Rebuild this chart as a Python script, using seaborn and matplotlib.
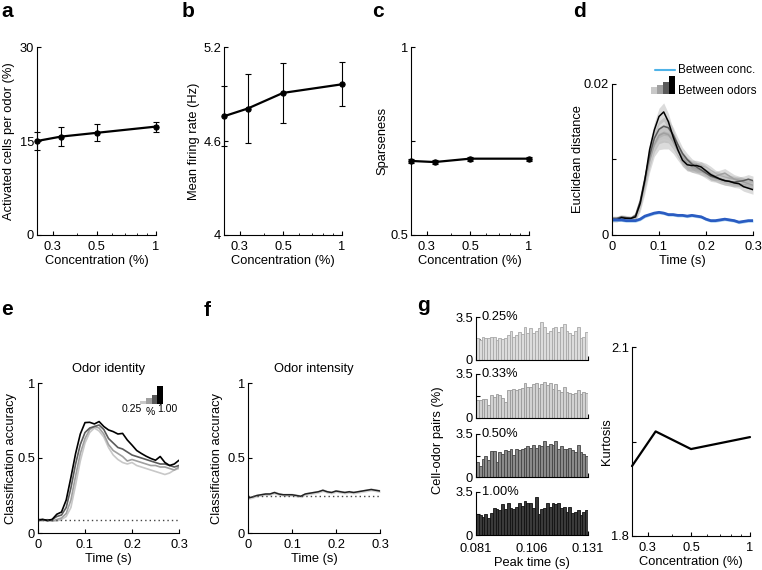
import numpy as np
import pandas as pd
import matplotlib
matplotlib.use('Agg')
import matplotlib.pyplot as plt
import seaborn as sns
from matplotlib.ticker import NullFormatter
from matplotlib.patches import Rectangle
from matplotlib.lines import Line2D

# ---------------- data ----------------
conc = [0.25, 0.33, 0.5, 1.0]
active_mean = [15.0, 15.7, 16.3, 17.3]
active_err = [1.5, 1.55, 1.35, 0.8]
rate_mean = [4.758, 4.807, 4.907, 4.962]
rate_err = [0.19, 0.22, 0.19, 0.14]
sparse_mean = [0.697, 0.694, 0.703, 0.703]
sparse_err = [0.006, 0.005, 0.005, 0.005]
kurt = [1.911, 1.966, 1.938, 1.957]

time = [0.00, 0.01, 0.02, 0.03, 0.04, 0.05, 0.06, 0.07, 0.08, 0.09, 0.10,
        0.11, 0.12, 0.13, 0.14, 0.15, 0.16, 0.17, 0.18, 0.19, 0.20,
        0.21, 0.22, 0.23, 0.24, 0.25, 0.26, 0.27, 0.28, 0.29, 0.30]

dist_025 = [0.0021, 0.0021, 0.0022, 0.0021, 0.0021, 0.0023, 0.0036, 0.0062, 0.0092, 0.0114, 0.0124,
            0.0126, 0.0125, 0.0118, 0.0108, 0.0099, 0.0093, 0.0090, 0.0089, 0.0090, 0.0088,
            0.0084, 0.0080, 0.0077, 0.0075, 0.0073, 0.0072, 0.0070, 0.0069, 0.0068, 0.0067]
dist_033 = [0.0021, 0.0021, 0.0022, 0.0022, 0.0021, 0.0024, 0.0040, 0.0068, 0.0098, 0.0120, 0.0132,
            0.0135, 0.0133, 0.0124, 0.0112, 0.0102, 0.0095, 0.0090, 0.0088, 0.0086, 0.0084,
            0.0080, 0.0078, 0.0080, 0.0082, 0.0078, 0.0074, 0.0072, 0.0070, 0.0068, 0.0066]
dist_050 = [0.0022, 0.0022, 0.0024, 0.0023, 0.0022, 0.0026, 0.0045, 0.0075, 0.0105, 0.0128, 0.0140,
            0.0144, 0.0142, 0.0133, 0.0120, 0.0108, 0.0100, 0.0094, 0.0090, 0.0086, 0.0082,
            0.0078, 0.0076, 0.0074, 0.0072, 0.0071, 0.0070, 0.0071, 0.0072, 0.0074, 0.0072]
dist_100 = [0.0020, 0.0020, 0.0023, 0.0022, 0.0022, 0.0024, 0.0042, 0.0073, 0.0113, 0.0139, 0.0157,
            0.0163, 0.0150, 0.0130, 0.0113, 0.0099, 0.0093, 0.0092, 0.0092, 0.0090, 0.0085,
            0.0080, 0.0077, 0.0074, 0.0072, 0.0071, 0.0069, 0.0068, 0.0064, 0.0062, 0.0060]
dist_odor_sem = [0.0003, 0.0003, 0.0003, 0.0003, 0.0003, 0.0004, 0.0005, 0.0007, 0.0009, 0.0010, 0.0011,
                 0.0012, 0.0011, 0.0010, 0.0009, 0.0008, 0.0008, 0.0007, 0.0007, 0.0007, 0.0007,
                 0.0007, 0.0006, 0.0006, 0.0006, 0.0006, 0.0006, 0.0006, 0.0006, 0.0006, 0.0006]
dist_conc = [0.0020, 0.0020, 0.0020, 0.0019, 0.0019, 0.0019, 0.0021, 0.0025, 0.0027, 0.0029, 0.0030,
             0.0029, 0.0027, 0.0027, 0.0026, 0.0026, 0.0025, 0.0026, 0.0025, 0.0024, 0.0021,
             0.0019, 0.0019, 0.0020, 0.0021, 0.0020, 0.0019, 0.0017, 0.0018, 0.0019, 0.0019]
dist_conc_sem = [0.0002, 0.0002, 0.0002, 0.0002, 0.0002, 0.0002, 0.0002, 0.0002, 0.0002, 0.0002, 0.0002,
                 0.0002, 0.0002, 0.0002, 0.0002, 0.0002, 0.0002, 0.0002, 0.0002, 0.0002, 0.0002,
                 0.0002, 0.0002, 0.0002, 0.0002, 0.0002, 0.0002, 0.0002, 0.0002, 0.0002, 0.0002]

ident_025 = [0.08, 0.08, 0.09, 0.08, 0.08, 0.09, 0.11, 0.17, 0.32, 0.48, 0.60,
             0.67, 0.70, 0.68, 0.64, 0.57, 0.52, 0.49, 0.47, 0.46, 0.47,
             0.45, 0.44, 0.43, 0.42, 0.41, 0.40, 0.39, 0.40, 0.42, 0.43]
ident_033 = [0.085, 0.09, 0.085, 0.08, 0.09, 0.10, 0.13, 0.22, 0.38, 0.53, 0.63,
             0.69, 0.71, 0.70, 0.66, 0.59, 0.55, 0.53, 0.51, 0.48, 0.49,
             0.48, 0.47, 0.46, 0.45, 0.45, 0.44, 0.44, 0.43, 0.42, 0.44]
ident_050 = [0.09, 0.09, 0.08, 0.09, 0.11, 0.12, 0.17, 0.30, 0.46, 0.59, 0.67,
             0.70, 0.71, 0.72, 0.69, 0.63, 0.60, 0.57, 0.56, 0.54, 0.52,
             0.51, 0.50, 0.49, 0.48, 0.47, 0.46, 0.46, 0.45, 0.44, 0.45]
ident_100 = [0.085, 0.09, 0.085, 0.09, 0.125, 0.14, 0.22, 0.37, 0.53, 0.66, 0.736,
             0.738, 0.727, 0.743, 0.71, 0.687, 0.676, 0.66, 0.664, 0.62, 0.586,
             0.55, 0.53, 0.512, 0.497, 0.485, 0.51, 0.47, 0.45, 0.46, 0.485]
ident_chance = 0.09

intens_mean = [0.233, 0.240, 0.250, 0.255, 0.260, 0.260, 0.270, 0.260, 0.255, 0.255, 0.255,
               0.250, 0.245, 0.260, 0.265, 0.270, 0.275, 0.285, 0.275, 0.270, 0.280,
               0.275, 0.270, 0.275, 0.270, 0.275, 0.280, 0.285, 0.290, 0.285, 0.280]
intens_sem = [0.010, 0.010, 0.010, 0.010, 0.010, 0.010, 0.010, 0.010, 0.010, 0.010, 0.010,
              0.010, 0.010, 0.010, 0.010, 0.010, 0.010, 0.010, 0.010, 0.010, 0.010,
              0.010, 0.010, 0.010, 0.010, 0.010, 0.010, 0.010, 0.010, 0.010, 0.010]
intens_chance = 0.25

peak_025 = [1.8, 1.6, 1.9, 1.8, 1.8, 1.9, 1.9, 1.6, 1.8, 1.7, 1.8, 2.0, 2.4, 1.9, 2.0, 2.3, 2.1, 2.7, 2.2, 2.6,
            2.2, 2.4, 2.6, 3.1, 2.7, 2.2, 2.4, 2.6, 2.7, 2.3, 2.7, 2.9, 2.4, 2.2, 2.0, 2.4, 2.7, 1.8, 1.9, 2.3]
peak_033 = [1.4, 1.4, 1.5, 1.5, 1.0, 1.8, 1.7, 1.9, 1.8, 1.6, 1.3, 2.2, 2.2, 2.3, 2.2, 2.3, 2.4, 2.8, 2.5, 2.5,
            2.7, 2.8, 2.4, 2.7, 2.9, 2.6, 2.8, 2.3, 2.7, 2.2, 2.1, 2.5, 2.1, 2.0, 1.9, 2.0, 2.2, 1.9, 2.1, 2.0]
peak_050 = [1.2, 0.9, 1.5, 1.7, 1.4, 2.1, 2.1, 1.2, 2.0, 1.9, 2.2, 2.1, 2.3, 1.8, 2.3, 2.2, 2.3, 2.4, 2.5, 2.4,
            2.6, 2.4, 2.6, 2.5, 2.9, 2.5, 2.7, 2.6, 2.9, 2.3, 2.5, 2.3, 2.3, 2.4, 2.2, 2.0, 2.6, 2.0, 1.9, 1.7]
peak_100 = [1.7, 1.6, 1.5, 1.7, 1.4, 1.8, 2.2, 2.1, 2.0, 2.5, 2.1, 2.6, 2.2, 2.1, 2.3, 2.6, 2.4, 2.8, 2.6, 2.6,
            2.2, 3.1, 1.7, 2.1, 2.2, 2.6, 2.3, 2.6, 2.5, 2.6, 2.2, 2.3, 1.9, 2.3, 1.8, 1.9, 2.0, 1.6, 1.9, 2.0]
peak_labels = ['0.25%', '0.33%', '0.50%', '1.00%']
peak_range = (0.081, 0.131)

# ---------------- style ----------------
sns.set_theme(style='ticks')
FS = 9.3
plt.rcParams['font.family'] = ['Liberation Sans', 'DejaVu Sans']
plt.rcParams.update({
    'font.size': FS, 'axes.labelsize': FS, 'xtick.labelsize': FS, 'ytick.labelsize': FS,
    'axes.titlesize': FS, 'axes.linewidth': 0.8, 'axes.edgecolor': 'black',
    'xtick.direction': 'in', 'ytick.direction': 'in',
    'xtick.major.size': 3, 'ytick.major.size': 3, 'xtick.minor.size': 1.8, 'ytick.minor.size': 1.8,
    'xtick.major.width': 0.8, 'ytick.major.width': 0.8, 'xtick.minor.width': 0.6,
    'xtick.major.pad': 4, 'ytick.major.pad': 2, 'axes.labelpad': 2,
    'xtick.color': 'black', 'ytick.color': 'black', 'text.color': 'black', 'axes.labelcolor': 'black',
})

W, H = 762, 570
fig = plt.figure(figsize=(W / 100, H / 100), dpi=100)
fig.patch.set_facecolor('white')


def add_ax(l, r, t, b):
    ax = fig.add_axes([l / W, 1 - b / H, (r - l) / W, (b - t) / H])
    ax.set_facecolor('white')
    sns.despine(ax=ax)
    return ax


def place_ylabel(ax, l, r, right_px):
    ax.yaxis.set_label_coords((right_px - l) / (r - l), 0.5)


conc_colors = ['#c8c8c8', '#a0a0a0', '#5a5a5a', '#000000']


def conc_panel(ax, means, errs, ylim, yticks, ylabels, ylabel, markers=True):
    ax.set_xscale('log')
    df = pd.DataFrame({'c': conc, 'v': means})
    if markers:
        sns.lineplot(data=df, x='c', y='v', ax=ax, color='black', lw=1.6, marker='o',
                     markersize=3.8, markeredgecolor='black', clip_on=False)
    else:
        sns.lineplot(data=df, x='c', y='v', ax=ax, color='black', lw=1.6, clip_on=False)
    if errs is not None:
        eb = ax.errorbar(conc, means, yerr=errs, fmt='none', ecolor='black', elinewidth=0.8,
                         capsize=2.5, capthick=0.8)
        for art in eb.get_children():
            art.set_clip_on(False)
    ax.set_xlim(0.25, 1.0)
    ax.set_ylim(*ylim)
    ax.set_xticks([0.3, 0.5, 1.0])
    ax.set_xticklabels(['0.3', '0.5', '1'])
    ax.xaxis.set_minor_formatter(NullFormatter())
    ax.set_yticks(yticks)
    ax.set_yticklabels(ylabels)
    ax.set_xlabel('Concentration (%)')
    ax.set_ylabel(ylabel)


axa = add_ax(37, 156, 47, 235)
conc_panel(axa, active_mean, active_err, (0, 30), [0, 15, 30], ['0', '15', '30'],
           'Activated cells per odor (%)')
place_ylabel(axa, 37, 156, 15.5)
axb = add_ax(224, 342, 47, 235)
conc_panel(axb, rate_mean, rate_err, (4, 5.2), [4, 4.6, 5.2], ['4', '4.6', '5.2'],
           'Mean firing rate (Hz)')
place_ylabel(axb, 224, 342, 200)
axc = add_ax(411, 529, 47, 235)
conc_panel(axc, sparse_mean, sparse_err, (0.5, 1), [0.5, 0.75, 1], ['0.5', '', '1'], 'Sparseness')
place_ylabel(axc, 411, 529, 388)

# ---- d ----
axd = add_ax(612, 753, 84, 235)
for vals, col in zip([dist_025, dist_033, dist_050, dist_100], conc_colors):
    lo = np.array(vals) - np.array(dist_odor_sem)
    hi = np.array(vals) + np.array(dist_odor_sem)
    axd.fill_between(time, lo, hi, color='#9a9a9a', alpha=0.35, lw=0)
for vals, col in zip([dist_025, dist_033, dist_050, dist_100], conc_colors):
    sns.lineplot(x=time, y=vals, ax=axd, color=col, lw=1.1)
axd.fill_between(time, np.array(dist_conc) - np.array(dist_conc_sem),
                 np.array(dist_conc) + np.array(dist_conc_sem), color='#8cc4ec', alpha=0.7, lw=0)
sns.lineplot(x=time, y=dist_conc, ax=axd, color='#2a5cc2', lw=2.0)
axd.set_xlim(0, 0.3)
axd.set_ylim(0, 0.02)
axd.set_xticks([0, 0.1, 0.2, 0.3])
axd.set_xticklabels(['0', '0.1', '0.2', '0.3'])
axd.set_yticks([0, 0.01, 0.02])
axd.set_yticklabels(['0', '', '0.02'])
axd.set_xlabel('Time (s)')
axd.set_ylabel('Euclidean distance')
place_ylabel(axd, 612, 753, 584)


def fx(x):
    return x / W


def fy(y):
    return 1 - y / H


fig.add_artist(Line2D([fx(655), fx(675)], [fy(70), fy(70)], color='#4fb3e8', lw=1.5,
                      transform=fig.transFigure))
fig.text(fx(678), fy(70), 'Between conc.', fontsize=8.5, va='center', ha='left')
for i, (top, col) in enumerate(zip([87, 85, 82, 76], conc_colors)):
    fig.add_artist(Rectangle((fx(651 + 6 * i), fy(94)), 6 / W, (94 - top) / H,
                             transform=fig.transFigure, facecolor=col, edgecolor='none'))
fig.text(fx(678), fy(91), 'Between odors', fontsize=8.5, va='center', ha='left')

# ---- e ----
axe = add_ax(38, 179, 383, 533)
for vals, col in zip([ident_025, ident_033, ident_050, ident_100], conc_colors):
    sns.lineplot(x=time, y=vals, ax=axe, color=col, lw=1.2)
axe.axhline(ident_chance, color='#444444', lw=1.0, ls=(0, (1, 2.2)))
axe.set_xlim(0, 0.3)
axe.set_ylim(0, 1)
axe.set_xticks([0, 0.1, 0.2, 0.3])
axe.set_xticklabels(['0', '0.1', '0.2', '0.3'])
axe.set_yticks([0, 0.5, 1])
axe.set_yticklabels(['0', '0.5', '1'])
axe.set_xlabel('Time (s)')
axe.set_ylabel('Classification accuracy')
place_ylabel(axe, 38, 179, 17.5)
axe.set_title('Odor identity', pad=8)
for i, (top, col) in enumerate(zip([400.7, 398.3, 395, 386], conc_colors)):
    fig.add_artist(Rectangle((fx(140 + 5.8 * i), fy(404)), 5.8 / W, (404 - top) / H,
                             transform=fig.transFigure, facecolor=col, edgecolor='none'))
fig.text(fx(132), fy(409), '0.25', fontsize=7.5, ha='center', va='center')
fig.text(fx(150), fy(412), '%', fontsize=7.5, ha='center', va='center')
fig.text(fx(167), fy(409), '1.00', fontsize=7.5, ha='center', va='center')

# ---- f ----
axf = add_ax(248, 380, 383, 533)
axf.fill_between(time, np.array(intens_mean) - np.array(intens_sem),
                 np.array(intens_mean) + np.array(intens_sem), color='#aaaaaa', alpha=0.5, lw=0)
sns.lineplot(x=time, y=intens_mean, ax=axf, color='#222222', lw=1.1)
axf.axhline(intens_chance, color='#444444', lw=1.0, ls=(0, (1, 2.2)))
axf.set_xlim(0, 0.3)
axf.set_ylim(0, 1)
axf.set_xticks([0, 0.1, 0.2, 0.3])
axf.set_xticklabels(['0', '0.1', '0.2', '0.3'])
axf.set_yticks([0, 0.5, 1])
axf.set_yticklabels(['0', '0.5', '1'])
axf.set_xlabel('Time (s)')
axf.set_ylabel('Classification accuracy')
place_ylabel(axf, 248, 380, 223)
axf.set_title('Odor intensity', pad=8)

# ---- g histograms ----
rows = [(317, 360), (374, 418), (434, 477), (492, 535)]
fills = ['#dcdcdc', '#d2d2d2', '#8a8a8a', '#3a3a3a']
edges_c = ['#a8a8a8', '#9a9a9a', '#444444', '#111111']
n_bins = len(peak_025)
bin_w = (peak_range[1] - peak_range[0]) / n_bins
bin_centers = [peak_range[0] + bin_w * (k + 0.5) for k in range(n_bins)]
for i, (vals, lab) in enumerate(zip([peak_025, peak_033, peak_050, peak_100], peak_labels)):
    t, b = rows[i]
    ax = add_ax(476, 588, t, b)
    hdf = pd.DataFrame({'peak': bin_centers, 'pct': vals})
    sns.histplot(data=hdf, x='peak', weights='pct', bins=n_bins, binrange=peak_range, ax=ax,
                 color=fills[i], edgecolor=edges_c[i], linewidth=0.6, alpha=1)
    ax.set_xlim(*peak_range)
    ax.set_ylim(0, 3.5)
    ax.set_yticks([0, 1.75, 3.5])
    ax.set_yticklabels(['0', '', '3.5'])
    ax.set_xticks([0.081, 0.106, 0.131])
    ax.set_ylabel('')
    if i < 3:
        ax.set_xticklabels([])
        ax.set_xlabel('')
    else:
        ax.set_xticklabels(['0.081', '0.106', '0.131'])
        ax.tick_params(axis='x', pad=5.5)
        ax.set_xlabel('Peak time (s)')
    ax.text(0.05, 1.0, lab, transform=ax.transAxes, ha='left', va='center', fontsize=FS)
fig.text(fx(438), fy(440), 'Cell-odor pairs (%)', rotation=90, ha='center', va='center', fontsize=FS)

# ---- g kurtosis ----
axk = add_ax(632, 750, 347, 536)
conc_panel(axk, kurt, None, (1.8, 2.1), [1.8, 1.95, 2.1], ['1.8', '', '2.1'], 'Kurtosis',
           markers=False)
place_ylabel(axk, 632, 750, 613)

# ---- panel letters ----
for lab, x, y in [('a', 7, 17), ('b', 188, 17), ('c', 378, 17), ('d', 579, 17),
                  ('e', 7, 315), ('f', 207, 316), ('g', 423, 311)]:
    fig.text(fx(x), fy(y), lab, fontsize=15, fontweight='bold', ha='center', va='baseline')

fig.savefig('out.png', dpi=100, facecolor='white')
